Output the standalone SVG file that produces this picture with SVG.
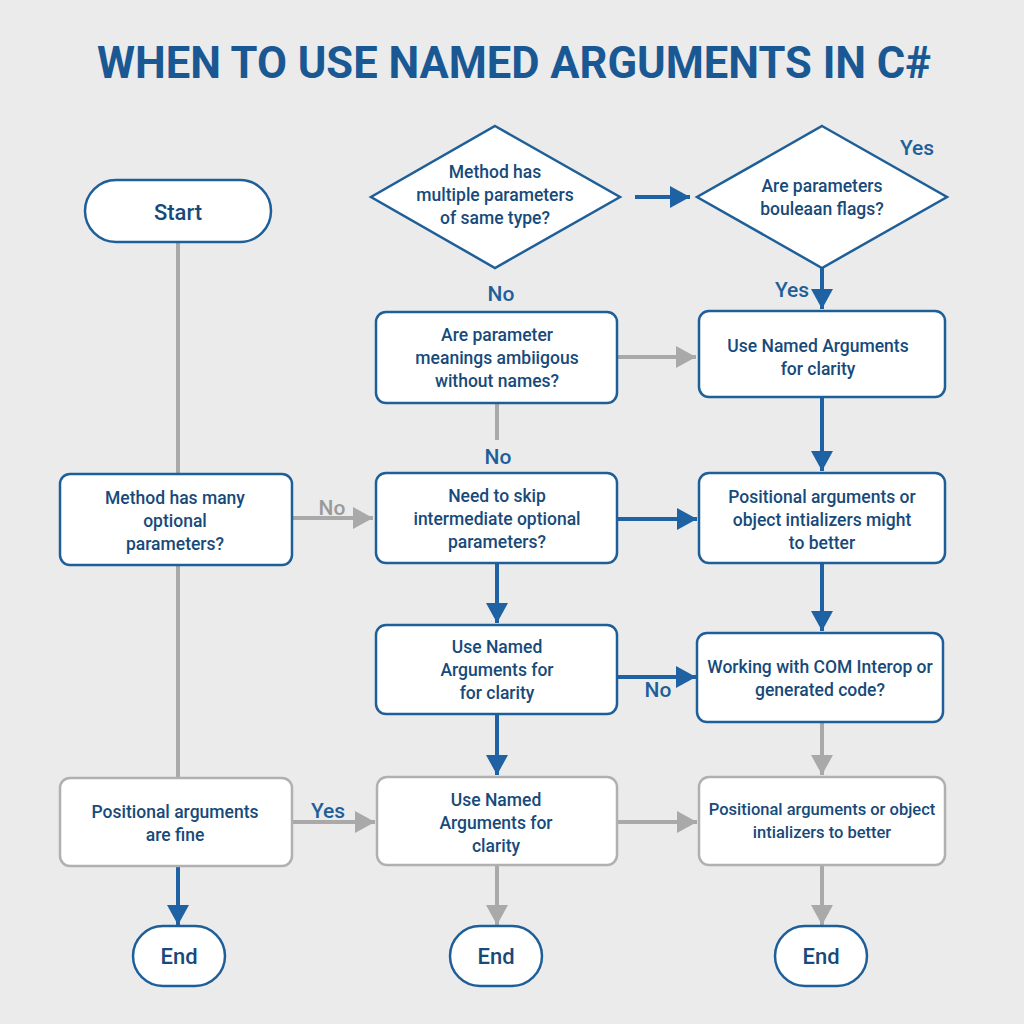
<svg xmlns="http://www.w3.org/2000/svg" width="1024" height="1024" viewBox="0 0 1024 1024">
<defs>
<marker id="ab" markerUnits="userSpaceOnUse" markerWidth="22" markerHeight="22" refX="20" refY="11" orient="auto"><path d="M0,0 L20,11 L0,22 Z" fill="#1f62a3"/></marker>
<marker id="ag" markerUnits="userSpaceOnUse" markerWidth="22" markerHeight="22" refX="20" refY="11" orient="auto"><path d="M0,0 L20,11 L0,22 Z" fill="#a9a9a9"/></marker>
<style>
.bx{fill:#ffffff;stroke:#1f5f99;stroke-width:2.5}
.gx{fill:#ffffff;stroke:#b0b0b0;stroke-width:2.5}
.t{font-family:Roboto,"Liberation Sans",sans-serif;font-size:17.5px;font-weight:500;fill:#174a7a;text-anchor:middle}
.tl{font-family:Roboto,"Liberation Sans",sans-serif;font-size:22px;font-weight:500;fill:#174a7a;text-anchor:middle}
.lb{font-family:Roboto,"Liberation Sans",sans-serif;font-size:21px;font-weight:500;fill:#1f5f99;text-anchor:middle}
.lg{font-family:Roboto,"Liberation Sans",sans-serif;font-size:21px;font-weight:500;fill:#9a9a9a;text-anchor:middle}
.cb{stroke:#1f62a3;stroke-width:4;fill:none}
.cg{stroke:#a9a9a9;stroke-width:4;fill:none}
</style>
</defs>
<rect width="1024" height="1024" fill="#ebebeb"/>
<text x="514" y="78" font-family="Roboto,'Liberation Sans',sans-serif" font-size="43.5" font-weight="700" fill="#1a5894" text-anchor="middle">WHEN TO USE NAMED ARGUMENTS IN C#</text>

<g id="connectors">
<line class="cg" x1="178" y1="242" x2="178" y2="474"/>
<line class="cg" x1="178" y1="565" x2="178" y2="778"/>
<line class="cg" x1="292" y1="518" x2="373" y2="518" marker-end="url(#ag)"/>
<line class="cb" x1="635" y1="197" x2="690" y2="197" marker-end="url(#ab)"/>
<line class="cb" x1="822" y1="268" x2="822" y2="309" marker-end="url(#ab)"/>
<line class="cg" x1="617" y1="357" x2="696" y2="357" marker-end="url(#ag)"/>
<line class="cg" x1="497" y1="403" x2="497" y2="440"/>
<line class="cb" x1="822" y1="397" x2="822" y2="471" marker-end="url(#ab)"/>
<line class="cb" x1="617" y1="519" x2="697" y2="519" marker-end="url(#ab)"/>
<line class="cb" x1="497" y1="563" x2="497" y2="623" marker-end="url(#ab)"/>
<line class="cb" x1="822" y1="563" x2="822" y2="631" marker-end="url(#ab)"/>
<line class="cb" x1="617" y1="677" x2="696" y2="677" marker-end="url(#ab)"/>
<line class="cb" x1="497" y1="714" x2="497" y2="775" marker-end="url(#ab)"/>
<line class="cg" x1="822" y1="722" x2="822" y2="775" marker-end="url(#ag)"/>
<line class="cg" x1="292" y1="822" x2="375" y2="822" marker-end="url(#ag)"/>
<line class="cg" x1="617" y1="822" x2="697" y2="822" marker-end="url(#ag)"/>
<line class="cb" x1="178" y1="866" x2="178" y2="925" marker-end="url(#ab)"/>
<line class="cg" x1="497" y1="865" x2="497" y2="925" marker-end="url(#ag)"/>
<line class="cg" x1="822" y1="865" x2="822" y2="925" marker-end="url(#ag)"/>
<text class="lg" x="332" y="515">No</text>
<text class="lb" x="917" y="155">Yes</text>
<text class="lb" x="792" y="297">Yes</text>
<text class="lb" x="501" y="301">No</text>
<text class="lb" x="498" y="464">No</text>
<text class="lb" x="658" y="697">No</text>
<text class="lb" x="328" y="818">Yes</text>
</g>

<g id="start">
<rect class="bx" x="85" y="180" width="186" height="62" rx="31"/>
<text class="tl" x="178" y="220">Start</text>
</g>
<g id="d1">
<polygon class="bx" points="495,126 620,197 495,268 371,197"/>
<text class="t" x="495" y="178">Method has</text>
<text class="t" x="495" y="201">multiple parameters</text>
<text class="t" x="495" y="224">of same type?</text>
</g>
<g id="d2">
<polygon class="bx" points="822,126 947,197 822,268 697,197"/>
<text class="t" x="822" y="192">Are parameters</text>
<text class="t" x="822" y="215">bouleaan flags?</text>
</g>
<g id="n_ambig">
<rect class="bx" x="376" y="312" width="241" height="91" rx="10"/>
<text class="t" x="497" y="341">Are parameter</text>
<text class="t" x="497" y="364">meanings ambiigous</text>
<text class="t" x="497" y="387">without names?</text>
</g>
<g id="n_use1">
<rect class="bx" x="699" y="311" width="246" height="86" rx="10"/>
<text class="t" x="818" y="352">Use Named Arguments</text>
<text class="t" x="818" y="375">for clarity</text>
</g>
<g id="n_many">
<rect class="bx" x="60" y="474" width="232" height="91" rx="10"/>
<text class="t" x="175" y="504">Method has many</text>
<text class="t" x="175" y="527">optional</text>
<text class="t" x="175" y="550">parameters?</text>
</g>
<g id="n_skip">
<rect class="bx" x="376" y="473" width="241" height="90" rx="10"/>
<text class="t" x="497" y="502">Need to skip</text>
<text class="t" x="497" y="525">intermediate optional</text>
<text class="t" x="497" y="548">parameters?</text>
</g>
<g id="n_pos1">
<rect class="bx" x="699" y="473" width="246" height="90" rx="10"/>
<text class="t" x="822" y="503">Positional arguments or</text>
<text class="t" x="822" y="526">object intializers might</text>
<text class="t" x="822" y="549">to better</text>
</g>
<g id="n_use2">
<rect class="bx" x="376" y="625" width="241" height="89" rx="10"/>
<text class="t" x="497" y="653">Use Named</text>
<text class="t" x="497" y="676">Arguments for</text>
<text class="t" x="497" y="699">for clarity</text>
</g>
<g id="n_com">
<rect class="bx" x="697" y="633" width="246" height="89" rx="10"/>
<text class="t" x="820" y="673">Working with COM Interop or</text>
<text class="t" x="820" y="696">generated code?</text>
</g>
<g id="n_fine">
<rect class="gx" x="60" y="778" width="232" height="88" rx="10"/>
<text class="t" x="175" y="818">Positional arguments</text>
<text class="t" x="175" y="841">are fine</text>
</g>
<g id="n_use3">
<rect class="gx" x="377" y="777" width="240" height="88" rx="10"/>
<text class="t" x="496" y="806">Use Named</text>
<text class="t" x="496" y="829">Arguments for</text>
<text class="t" x="496" y="852">clarity</text>
</g>
<g id="n_pos2">
<rect class="gx" x="699" y="777" width="246" height="88" rx="10"/>
<text class="t" x="822" y="815" style="font-size:16.5px">Positional arguments or object</text>
<text class="t" x="822" y="838" style="font-size:16.5px">intializers to better</text>
</g>
<g id="end1">
<rect class="bx" x="133" y="926" width="92" height="60" rx="30"/>
<text class="tl" x="179" y="964">End</text>
</g>
<g id="end2">
<rect class="bx" x="450" y="926" width="92" height="60" rx="30"/>
<text class="tl" x="496" y="964">End</text>
</g>
<g id="end3">
<rect class="bx" x="775" y="926" width="92" height="60" rx="30"/>
<text class="tl" x="821" y="964">End</text>
</g>
</svg>
